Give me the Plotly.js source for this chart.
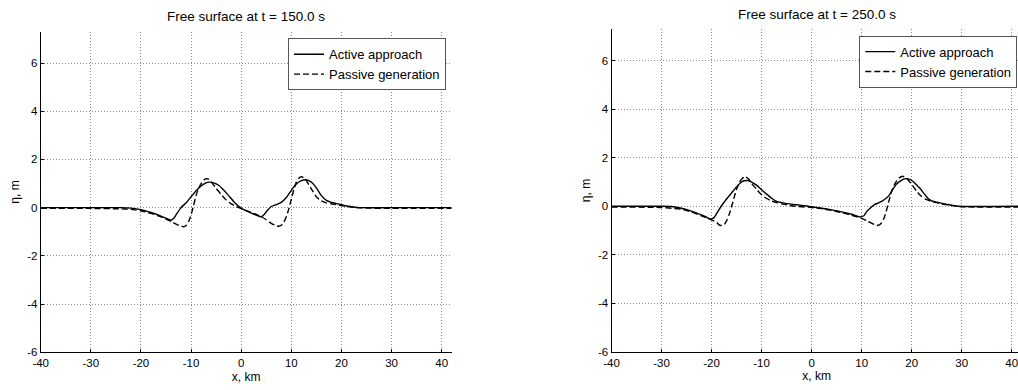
<!DOCTYPE html>
<html>
<head>
<meta charset="utf-8">
<script src="https://cdn.plot.ly/plotly-3.0.1.min.js"></script>
<style>
html,body{margin:0;padding:0;overflow:hidden;background:#fff;}
#chart{width:1030px;height:390px;}
</style>
</head>
<body>
<div id="chart"></div>
<script>
// ---- data ----
const titles = ["Free surface at t = 150.0 s", "Free surface at t = 250.0 s"];
const seriesNames = ["Active approach", "Passive generation"];
const xTicks = [-40, -30, -20, -10, 0, 10, 20, 30, 40];
const yTicks = [-6, -4, -2, 0, 2, 4, 6];

// t = 150 s, active approach (solid)
const xActive150 = [-40, -30, -24, -22, -20, -18, -16, -15, -14, -13.5, -13, -12, -11, -10, -9, -8, -7, -6.5, -5.5, -4.5, -3.5, -2.5, -1.5, -0.5, 0.5, 1.5, 2.5, 3.5, 4, 4.6, 5.2, 6, 7, 8, 9, 10, 11, 12, 12.8, 13.5, 14.2, 15, 16, 17, 18, 19, 20, 21, 22, 23, 24, 30, 42];
const yActive150 = [0, 0, 0, -0.02, -0.08, -0.2, -0.35, -0.44, -0.52, -0.45, -0.3, 0, 0.2, 0.45, 0.7, 0.9, 1.03, 1.06, 1.03, 0.93, 0.73, 0.5, 0.26, 0.06, -0.08, -0.17, -0.27, -0.35, -0.38, -0.28, -0.12, 0.05, 0.13, 0.22, 0.42, 0.72, 0.98, 1.12, 1.16, 1.12, 1.02, 0.82, 0.5, 0.3, 0.22, 0.17, 0.12, 0.07, 0.04, 0.01, 0, 0, 0];

// t = 150 s, passive generation (dashed)
const xPassive150 = [-40, -30, -24, -22, -20, -18, -16, -15, -14, -13, -12, -11.5, -11, -10.5, -10, -9.5, -9, -8.5, -8, -7.5, -7, -6.5, -6, -5, -4, -3, -2, -1, 0, 1, 2, 3, 4, 5, 6, 7, 7.5, 8, 8.5, 9, 9.5, 10, 10.5, 11, 11.5, 12, 12.5, 13, 14, 15, 16, 17, 18, 20, 22, 24, 30, 42];
const yPassive150 = [-0.03, -0.03, -0.05, -0.07, -0.13, -0.24, -0.38, -0.47, -0.57, -0.68, -0.77, -0.79, -0.74, -0.58, -0.3, 0.1, 0.5, 0.8, 1.0, 1.14, 1.2, 1.18, 1.08, 0.8, 0.55, 0.32, 0.16, 0.05, -0.04, -0.12, -0.2, -0.28, -0.37, -0.5, -0.65, -0.75, -0.77, -0.73, -0.6, -0.38, -0.05, 0.35, 0.75, 1.05, 1.22, 1.28, 1.24, 1.12, 0.78, 0.45, 0.28, 0.2, 0.16, 0.09, 0.03, -0.01, -0.03, -0.03];

// t = 250 s, active approach (solid)
const xActive250 = [-40, -30, -28, -26, -24, -22, -21, -20.3, -19.5, -19, -18, -17, -16, -15, -14, -13.5, -12.7, -12, -11, -10, -9, -8, -7, -6, -5, -3, -1, 0, 2, 4, 6, 8, 9, 9.8, 10.5, 11, 11.7, 12.5, 13.5, 14.5, 15.5, 16.3, 17, 18, 18.8, 19.5, 20.3, 21, 21.7, 22.5, 23.3, 24, 25, 26, 27, 28, 29.3, 42];
const yActive250 = [0, 0, -0.01, -0.08, -0.2, -0.36, -0.45, -0.53, -0.47, -0.3, 0.02, 0.3, 0.55, 0.8, 1.0, 1.05, 1.06, 1.0, 0.87, 0.68, 0.5, 0.33, 0.2, 0.15, 0.11, 0.06, 0.01, -0.02, -0.08, -0.15, -0.23, -0.33, -0.4, -0.44, -0.38, -0.22, -0.08, 0.06, 0.15, 0.27, 0.45, 0.72, 0.92, 1.08, 1.14, 1.12, 1.02, 0.88, 0.73, 0.52, 0.32, 0.22, 0.17, 0.12, 0.08, 0.04, 0, 0];

// t = 250 s, passive generation (dashed)
const xPassive250 = [-40, -30, -28, -26, -24, -22, -20, -19, -18.3, -17.5, -17, -16.5, -16, -15.5, -15, -14.5, -14, -13.5, -13.2, -12.5, -12, -11, -10, -9, -8, -7, -6, -5, -4, -2, 0, 2, 4, 6, 8, 10, 11, 12, 12.7, 13.3, 14, 14.5, 15, 15.5, 16, 16.5, 17, 17.5, 18.2, 19, 19.5, 20, 21, 22, 23, 24, 26, 28, 30, 42];
const yPassive250 = [-0.03, -0.05, -0.08, -0.12, -0.24, -0.4, -0.56, -0.67, -0.79, -0.76, -0.6, -0.35, -0.02, 0.35, 0.7, 0.95, 1.12, 1.2, 1.22, 1.1, 0.94, 0.7, 0.47, 0.32, 0.22, 0.15, 0.1, 0.06, 0.02, -0.02, -0.05, -0.1, -0.17, -0.26, -0.37, -0.5, -0.6, -0.7, -0.77, -0.79, -0.68, -0.48, -0.15, 0.25, 0.62, 0.87, 1.05, 1.17, 1.24, 1.15, 1.03, 0.9, 0.62, 0.4, 0.27, 0.2, 0.1, 0.03, -0.02, -0.03];

// ---- plotting ----
const FONT = "'Liberation Sans', Arial, sans-serif";
const solid = {color: "#000", width: 1.4, shape: "spline", smoothing: 0.5};
const dashed = {color: "#000", width: 1.4, dash: "6px,3px", shape: "spline", smoothing: 0.5};

const traces = [
  {x: xActive150, y: yActive150, name: seriesNames[0], mode: "lines", line: solid, xaxis: "x", yaxis: "y", legend: "legend"},
  {x: xPassive150, y: yPassive150, name: seriesNames[1], mode: "lines", line: dashed, xaxis: "x", yaxis: "y", legend: "legend"},
  {x: xActive250, y: yActive250, name: seriesNames[0], mode: "lines", line: solid, xaxis: "x2", yaxis: "y2", legend: "legend2"},
  {x: xPassive250, y: yPassive250, name: seriesNames[1], mode: "lines", line: dashed, xaxis: "x2", yaxis: "y2", legend: "legend2"}
];

const common = {
  showline: true, linecolor: "#000", linewidth: 1, mirror: false,
  showgrid: true, gridcolor: "#8c8c8c", griddash: "1px,2px", gridwidth: 1,
  zeroline: false, ticks: "inside", ticklen: 3, tickwidth: 1, tickcolor: "#000",
  tickfont: {family: FONT, size: 11.5, color: "#000"}
};
function xax(domain, anchor) {
  return Object.assign({}, common, {
    domain: domain, anchor: anchor, range: [-40, 42],
    tickmode: "array", tickvals: xTicks, ticktext: xTicks.map(String),
    title: {text: "x, km", font: {family: FONT, size: 12, color: "#000"}, standoff: 4}
  });
}
function yax(domain, anchor) {
  return Object.assign({}, common, {
    domain: domain, anchor: anchor, range: [-6, 7.3],
    tickmode: "array", tickvals: yTicks, ticktext: yTicks.map(String),
    title: {text: "η, m", font: {family: FONT, size: 12, color: "#000"}, standoff: 4}
  });
}
function leg(xr, yt) {
  return {
    x: xr, y: yt, xanchor: "right", yanchor: "top",
    bgcolor: "#fff", bordercolor: "#555", borderwidth: 1,
    font: {family: FONT, size: 13, color: "#000"}, tracegroupgap: 0
  };
}

const W = 1030, H = 390;
const layout = {
  width: W, height: H,
  margin: {l: 0, r: 0, t: 0, b: 0},
  paper_bgcolor: "#fff", plot_bgcolor: "#fff",
  font: {family: FONT, size: 13, color: "#000"},
  showlegend: true,
  xaxis: xax([40.7 / W, 451.7 / W], "y"),
  yaxis: yax([1 - 352.3 / H, 1 - 31.7 / H], "x"),
  xaxis2: xax([611.5 / W, 1021.7 / W], "y2"),
  yaxis2: yax([1 - 351.7 / H, 1 - 29.3 / H], "x2"),
  legend: leg(446 / W, 1 - 38.3 / H),
  legend2: leg(1017.3 / W, 1 - 35.7 / H),
  annotations: [
    {text: titles[0], xref: "paper", yref: "paper", x: 246 / W, y: 1 - 17 / H, xanchor: "center", yanchor: "middle", showarrow: false, font: {family: FONT, size: 13.5, color: "#000"}},
    {text: titles[1], xref: "paper", yref: "paper", x: 816.5 / W, y: 1 - 15 / H, xanchor: "center", yanchor: "middle", showarrow: false, font: {family: FONT, size: 13.5, color: "#000"}}
  ]
};

Plotly.newPlot("chart", traces, layout, {staticPlot: true, displayModeBar: false});
</script>
</body>
</html>
